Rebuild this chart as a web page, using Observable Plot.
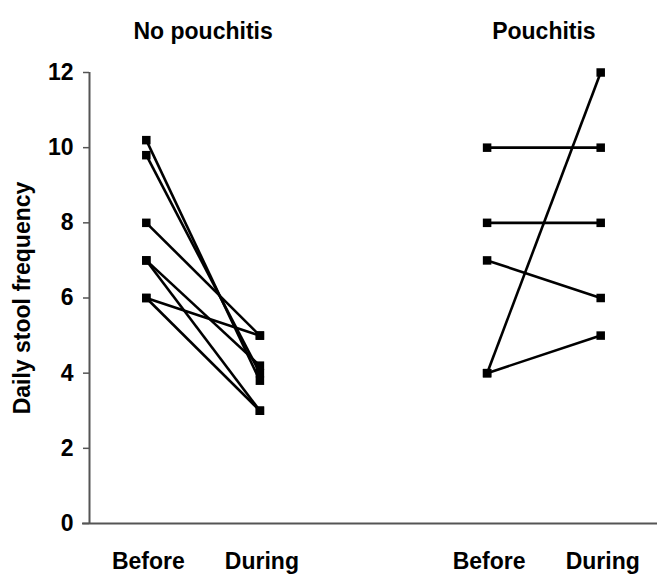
<!DOCTYPE html>
<html>
<head>
<meta charset="utf-8">
<script src="https://cdn.jsdelivr.net/npm/d3@7"></script>
<script src="https://cdn.jsdelivr.net/npm/@observablehq/plot@0.6"></script>
<style>
  html, body { margin: 0; padding: 0; background: #fff; }
  #chart svg { display: block; }
</style>
</head>
<body>
<div id="chart"></div>
<script>
// Group titles and period labels
const groups = ["No pouchitis", "Pouchitis"];
const periods = ["Before", "During"];
const yTicks = [0, 2, 4, 6, 8, 10, 12];

// No pouchitis patients: stool frequency before / during
const noPouchBefore = [10.2, 9.8, 8, 7, 7, 6, 6];
const noPouchDuring = [3.8, 4.0, 5, 4.2, 3, 5, 3];

// Pouchitis patients: stool frequency before / during
const pouchBefore = [10, 8, 7, 4, 4];
const pouchDuring = [10, 8, 6, 12, 5];

// category positions on the x axis
const xPos = {"No pouchitis": {Before: 1, During: 2}, "Pouchitis": {Before: 4, During: 5}};

const pairs = [];
noPouchBefore.forEach((b, i) => pairs.push({group: groups[0], before: b, during: noPouchDuring[i]}));
pouchBefore.forEach((b, i) => pairs.push({group: groups[1], before: b, during: pouchDuring[i]}));

const points = [];
pairs.forEach(p => {
  points.push({x: xPos[p.group].Before, y: p.before});
  points.push({x: xPos[p.group].During, y: p.during});
});

const xTickValues = [];
const xTickLabels = {};
groups.forEach(g => periods.forEach(per => { xTickValues.push(xPos[g][per]); xTickLabels[xPos[g][per]] = per; }));

const titles = groups.map(g => ({x: (xPos[g].Before + xPos[g].During) / 2, label: g}));

const font = "'Liberation Sans', Arial, Helvetica, sans-serif";

const chart = Plot.plot({
  width: 657,
  height: 574,
  marginTop: 72,
  marginBottom: 51,
  marginLeft: 89,
  marginRight: 0,
  style: {fontFamily: font, fontWeight: "bold", fontSize: "20px", color: "#000", background: "#fff"},
  x: {domain: [0.5, 5.5], axis: null},
  y: {domain: [0, 12], axis: null},
  marks: [
    Plot.axisY({ticks: yTicks, tickSize: 6, tickPadding: 10, stroke: "#555", strokeWidth: 1.5, fill: "#000", fontSize: 23, fontWeight: "bold", label: null}),
    Plot.axisX({ticks: xTickValues, tickFormat: d => xTickLabels[d], tickSize: 0, tickPadding: 29, dx: 2, fill: "#000", fontSize: 23, fontWeight: "bold", label: null}),
    Plot.ruleX([0.5], {y1: 0, y2: 12, stroke: "#555", strokeWidth: 2}),
    Plot.ruleY([0], {stroke: "#555", strokeWidth: 2, insetLeft: -7}),
    Plot.link(pairs, {
      x1: d => xPos[d.group].Before, y1: "before",
      x2: d => xPos[d.group].During, y2: "during",
      stroke: "#000", strokeWidth: 2.6
    }),
    Plot.dot(points, {x: "x", y: "y", symbol: "square", r: 4.8, fill: "#000", stroke: "none"}),
    Plot.text(titles, {x: "x", text: "label", frameAnchor: "top", dy: -50, fontSize: 23, fontWeight: "bold", fill: "#000"}),
    Plot.text(["Daily stool frequency"], {text: d => d, frameAnchor: "left", textAnchor: "middle", dx: -67, rotate: -90, fontSize: 23, fontWeight: "bold", fill: "#000"})
  ]
});

document.getElementById("chart").appendChild(chart);
</script>
</body>
</html>
